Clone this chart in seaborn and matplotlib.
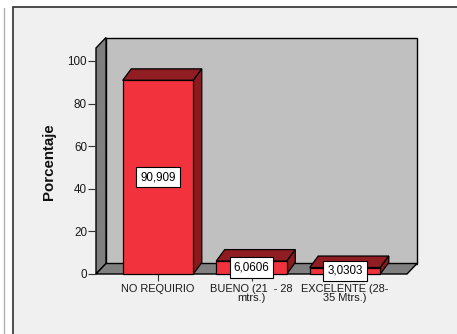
import numpy as np
import pandas as pd
import matplotlib
matplotlib.use("Agg")
import matplotlib.pyplot as plt
from matplotlib.patches import Polygon, Rectangle
from matplotlib.transforms import IdentityTransform
import seaborn as sns

categories = ["NO REQUIRIO", "BUENO (21  - 28\nmtrs.)", "EXCELENTE (28-\n35 Mtrs.)"]
values = [90.909, 6.0606, 3.0303]
yticks = [0, 20, 40, 60, 80, 100]
ylabel = "Porcentaje"

sns.set_style("white")
plt.rcParams["font.family"] = ["Liberation Sans", "DejaVu Sans"]

W, H = 457, 334
fig = plt.figure(figsize=(W / 100, H / 100), dpi=100)
fig.patch.set_facecolor("white")

# outer panel
fig.add_artist(Rectangle((12.5, -5), W, H - 6.5 + 5, transform=IdentityTransform(),
                         facecolor="#f0f0f0", edgecolor="#303030", linewidth=1.2, zorder=0))
fig.add_artist(plt.Line2D([3.5, 3.5], [0, H - 8], transform=IdentityTransform(),
                          color="#b0b0b0", linewidth=1, zorder=0))

ax = fig.add_axes([96 / W, (H - 274) / H, 311 / W, 226 / H])
ax.patch.set_visible(False)
for s in ax.spines.values():
    s.set_visible(False)

df = pd.DataFrame({"cat": categories, "val": values})
red = "#f2333d"
sns.barplot(data=df, x="cat", y="val", color=red, width=0.755, saturation=1,
            edgecolor="black", linewidth=0.9, ax=ax, zorder=5)

ax.set_xlim(-0.663, 2.663)
ax.set_ylim(0, 106.1)
ax.set_yticks(yticks)
ax.set_yticklabels([str(t) for t in yticks])
ax.set_xlabel("")
ax.set_ylabel("")
ax.tick_params(axis="y", left=True, length=5.5, width=0.8, color="#333333", pad=1,
               labelsize=8.4, labelcolor="#1a1a1a")
ax.tick_params(axis="x", bottom=True, length=5, width=0.8, color="#333333", pad=2,
               labelsize=7.9, labelcolor="#1a1a1a")
for lbl in ax.get_xticklabels():
    lbl.set_linespacing(0.95)

fig.text(49 / W, 1 - 162 / H, ylabel, rotation=90, ha="center", va="center",
         fontsize=10.8, fontweight="bold", color="#111111")

T = ax.transData
ID = IdentityTransform()

# walls (pixel coordinates)
wdx, wdy = 10, 10.5
x0, y0 = T.transform((-0.663, 0))
x1, y1 = T.transform((2.663, 106.1))
back = Polygon([(x0 + wdx, y0 + wdy), (x1 + wdx, y0 + wdy), (x1 + wdx, y1 + wdy), (x0 + wdx, y1 + wdy)],
               closed=True, transform=ID, facecolor="#c0c0c0", edgecolor="black", linewidth=1, zorder=1)
left = Polygon([(x0, y0), (x0 + wdx, y0 + wdy), (x0 + wdx, y1 + wdy), (x0, y1)],
               closed=True, transform=ID, facecolor="#7f7f7f", edgecolor="black", linewidth=1, zorder=2)
floor = Polygon([(x0, y0), (x1, y0), (x1 + wdx, y0 + wdy), (x0 + wdx, y0 + wdy)],
                closed=True, transform=ID, facecolor="#808080", edgecolor="black", linewidth=1, zorder=2)
for p in (back, left, floor):
    p.set_clip_on(False)
    fig.add_artist(p)

# bar depth faces
bdx, bdy = 8.5, 11.5
for patch in ax.patches:
    bx, by = patch.get_x(), patch.get_y()
    bw, bh = patch.get_width(), patch.get_height()
    (px0, py0) = T.transform((bx, by))
    (px1, py1) = T.transform((bx + bw, by + bh))
    top = Polygon([(px0, py1), (px1, py1), (px1 + bdx, py1 + bdy), (px0 + bdx, py1 + bdy)],
                  closed=True, transform=ID, facecolor="#8f1d22", edgecolor="black",
                  linewidth=0.9, zorder=3)
    side = Polygon([(px1, py0), (px1 + bdx, py0 + bdy), (px1 + bdx, py1 + bdy), (px1, py1)],
                   closed=True, transform=ID, facecolor="#8a1a1e", edgecolor="black",
                   linewidth=0.9, zorder=3)
    for p in (top, side):
        p.set_clip_on(False)
        fig.add_artist(p)
    patch.set_clip_on(False)

for patch in ax.patches:
    patch.set_zorder(6)
ax.set_zorder(3)

for i, v in enumerate(values):
    ax.text(i, v / 2, f"{v:.5g}".replace(".", ","), ha="center", va="center",
            fontsize=8.4, color="black", zorder=10, clip_on=False,
            bbox=dict(boxstyle="square,pad=0.35", facecolor="white", edgecolor="black", linewidth=0.8))

fig.savefig("out.png", dpi=100)
